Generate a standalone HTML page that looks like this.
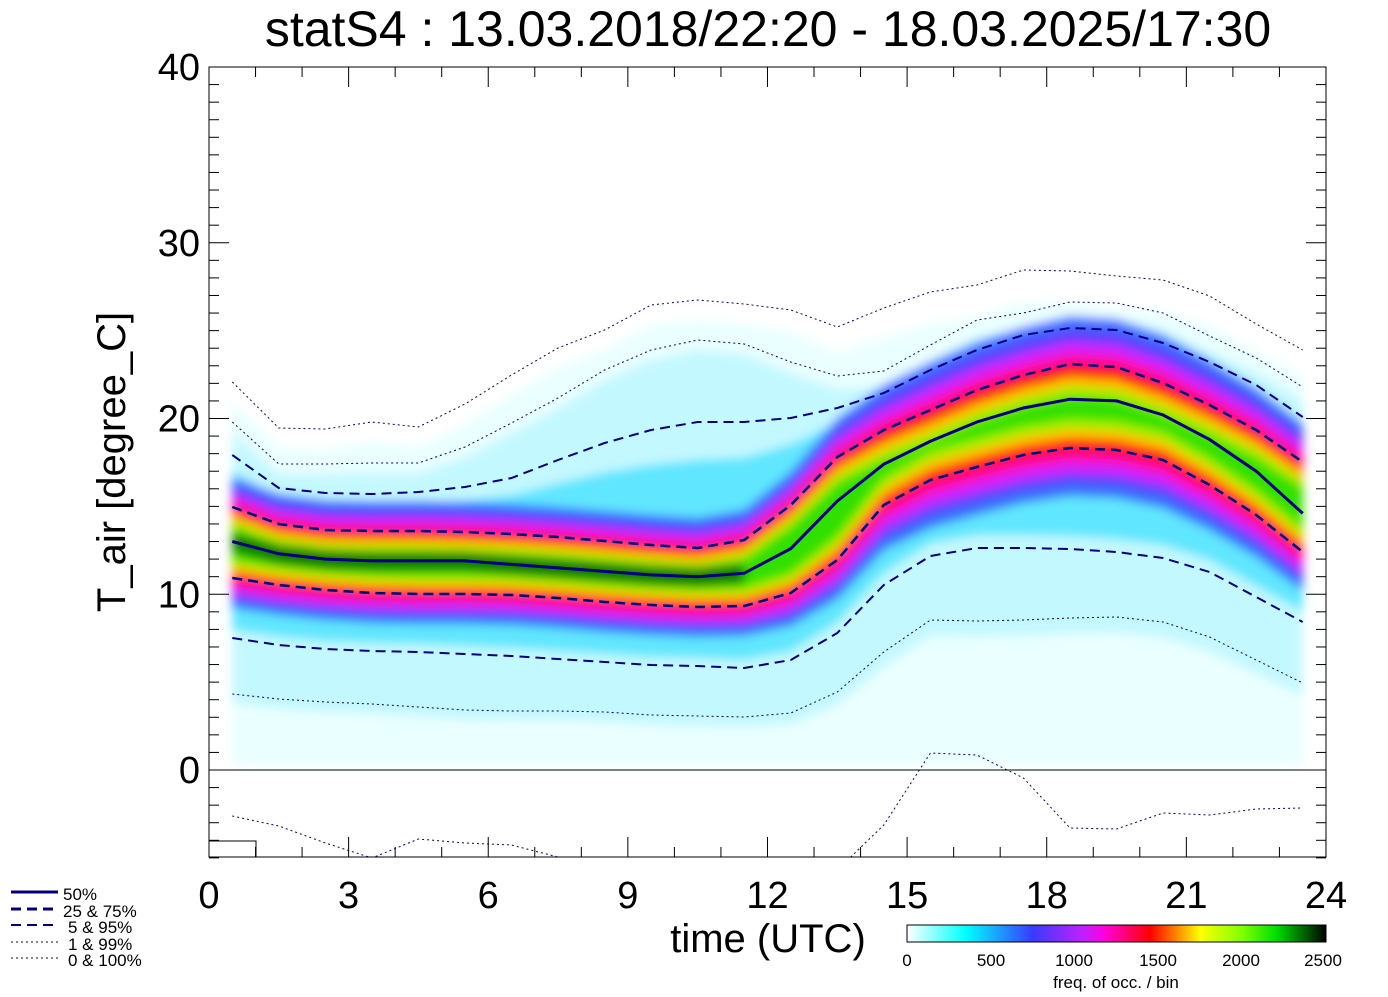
<!DOCTYPE html>
<html><head><meta charset="utf-8"><style>
body{margin:0;background:#fff;width:1388px;height:992px;overflow:hidden;font-family:"Liberation Sans",sans-serif}
</style></head><body>
<svg id="s" width="1388" height="992" xmlns="http://www.w3.org/2000/svg" font-family="Liberation Sans, sans-serif">
<defs>
<filter id="b" x="-5%" y="-20%" width="110%" height="140%"><feGaussianBlur stdDeviation="5"/></filter>
<clipPath id="c"><rect x="209" y="67" width="1117" height="790"/></clipPath>
<linearGradient id="cb" x1="0" x2="1">
<stop offset="0" stop-color="#ffffff"/><stop offset="0.14" stop-color="#00ffff"/>
<stop offset="0.3" stop-color="#3a3aff"/><stop offset="0.42" stop-color="#c020ff"/>
<stop offset="0.47" stop-color="#ff00e0"/><stop offset="0.58" stop-color="#ff0000"/>
<stop offset="0.7" stop-color="#ffff00"/><stop offset="0.8" stop-color="#80ff00"/>
<stop offset="0.88" stop-color="#00e000"/><stop offset="1" stop-color="#000000"/>
</linearGradient>
</defs>
<g id="heat" clip-path="url(#c)" filter="url(#b)"></g>
<g id="lines" clip-path="url(#c)" fill="none"></g>
<g id="axes"></g>
<text x="768" y="46" font-size="50" text-anchor="middle">statS4 : 13.03.2018/22:20 - 18.03.2025/17:30</text>
<text transform="translate(125,462) rotate(-90)" font-size="40" text-anchor="middle">T_air [degree_C]</text>
<text x="768" y="952" font-size="40" text-anchor="middle">time (UTC)</text>
<rect x="907" y="925" width="419" height="17" fill="url(#cb)" stroke="#000" stroke-width="1"/>
<g font-size="17" text-anchor="middle">
<text x="907" y="966">0</text><text x="991" y="966">500</text><text x="1074" y="966">1000</text>
<text x="1158" y="966">1500</text><text x="1241" y="966">2000</text><text x="1323" y="966">2500</text>
<text x="1116" y="988">freq. of occ. / bin</text></g>
<g stroke="#000080" fill="none">
<line x1="11" y1="892" x2="58" y2="892" stroke-width="3"/>
<line x1="11" y1="909" x2="58" y2="909" stroke-width="3" stroke-dasharray="10,6"/>
<line x1="11" y1="925" x2="58" y2="925" stroke-width="2" stroke-dasharray="10,6"/>
<line x1="11" y1="942" x2="58" y2="942" stroke-width="1" stroke-dasharray="2,3"/>
<line x1="11" y1="958" x2="58" y2="958" stroke-width="1" stroke-dasharray="2,3"/>
</g>
<g font-size="17"><text x="63" y="900">50%</text><text x="63" y="917">25 &amp;  75%</text>
<text x="68" y="933">5 &amp;  95%</text><text x="68" y="950">1 &amp;  99%</text><text x="68" y="966">0 &amp; 100%</text></g>
</svg>
<script>
const NS="http://www.w3.org/2000/svg";
const X=h=>209+46.54*h;
const hs=[];for(let i=0;i<24;i++)hs.push(i+0.5);
const med=[13.0,12.3,12.0,11.9,11.9,11.9,11.7,11.5,11.3,11.1,11.0,11.2,12.6,15.3,17.4,18.7,19.8,20.6,21.1,21.0,20.2,18.8,17.0,14.6].map(v=>770-17.575*v);
const p75=[507,524,530,531,531,532,534,537,541,545,548,540,505,457,430,410,390,375,364,367,383,405,430,462];
const p25=[578,585,590,593,594,594,595,598,602,605,607,606,593,560,505,480,467,455,448,450,460,485,515,552];
const p95=[455,488,493,494,492,487,478,460,443,430,422,422,418,408,393,370,350,335,328,330,343,362,385,417];
const p5=[638,645,649,651,652,654,656,659,662,665,666,668,660,633,585,556,548,548,549,552,558,572,597,622];
const p99=[422,464,464,463,463,447,423,398,370,350,340,344,362,376,371,345,320,313,302,303,313,336,358,387];
const p1=[694,699,702,704,707,710,711,711,712,715,716,717,713,692,652,620,621,620,618,617,622,637,660,683];
const p100=[382,428,429,422,427,404,375,348,330,305,300,304,310,327,308,292,285,270,271,276,280,296,324,350];
const p0=[816,826,843,858,839,843,845,857,875,880,880,880,880,870,825,753,755,778,828,829,813,815,809,808];
const sc=[1,1,1,1,1,1,1,1,1,1,1,1,1.1,1.3,1.5,1.6,1.6,1.6,1.6,1.6,1.6,1.5,1.4,1.3];
function pts(a,off){return hs.map((h,i)=>X(h).toFixed(1)+","+(a[i]+off*sc[i]).toFixed(1));}
function el(t,at,parent){const e=document.createElementNS(NS,t);for(const k in at)e.setAttribute(k,at[k]);document.getElementById(parent).appendChild(e);return e;}
function band(top,ot,bot,ob,col,op){
 const a=pts(top,ot),b=pts(bot,ob).reverse();
 el("polygon",{points:a.concat(b).join(" "),fill:col,"fill-opacity":op||1},"heat");
}
const mid=(a,b,f)=>a.map((v,i)=>v+(b[i]-v)*f);
const zero=hs.map(()=>765);
band(p100,20,zero,0,"#eaffff");
band(p99,10,p1,10,"#c4f8ff");
band(mid(p95,p75,0.3),0,p5,-8,"#60e6ff");
band(p75,-30,p25,30,"#3a70ff");
band(p75,-22,p25,22,"#5a40ff");
band(p75,-14,p25,16,"#d020ff");
band(p75,-7,p25,9,"#ff10b0");
band(p75,-1,p25,3,"#ff1010");
band(p75,8,p25,-6,"#ffc000");
band(p75,14,p25,-12,"#a0f000");
band(p75,20,p25,-18,"#30e000");
(function(){const a=[],b=[];for(let i=0;i<=11;i++){a.push(X(hs[i])+","+(med[i]-9));b.push(X(hs[i])+","+(med[i]+10));}
 el("polygon",{points:a.concat(b.reverse()).join(" "),fill:"#086000","fill-opacity":0.8},"heat");})();
function line(a,w,dash){el("polyline",{points:hs.map((h,i)=>X(h).toFixed(1)+","+a[i].toFixed(1)).join(" "),stroke:"#000080","stroke-width":w,"stroke-dasharray":dash||"none"},"lines");}
line(med,3);line(p75,2.5,"10,6");line(p25,2.5,"10,6");line(p95,2,"10,6");line(p5,2,"10,6");
line(p99,1,"2,3");line(p1,1,"2,3");line(p100,1,"2,3");line(p0,1,"2,3");
const ax="axes";
el("rect",{x:209,y:67,width:1117,height:790,fill:"none",stroke:"#000","stroke-width":1},ax);
el("line",{x1:209,y1:770,x2:1326,y2:770,stroke:"#000"},ax);
el("path",{d:"M209,841 H256 V857",stroke:"#000",fill:"none"},ax);
for(let v=-5;v<=40;v++){const y=770-17.575*v;const L=v%10==0?20:10;
 el("line",{x1:209,y1:y,x2:209+L,y2:y,stroke:"#000"},ax);el("line",{x1:1326,y1:y,x2:1326-L,y2:y,stroke:"#000"},ax);
 if(v%10==0&&v>=0){const t=el("text",{x:200,y:y+13,"font-size":38,"text-anchor":"end"},ax);t.textContent=v;}}
for(let h=0;h<=24;h++){const x=X(h);const L=h%3==0?20:10;
 el("line",{x1:x,y1:857,x2:x,y2:857-L,stroke:"#000"},ax);el("line",{x1:x,y1:67,x2:x,y2:67+L,stroke:"#000"},ax);
 if(h%3==0){const t=el("text",{x:x,y:908,"font-size":38,"text-anchor":"middle"},ax);t.textContent=h;}}
</script>
</body></html>
